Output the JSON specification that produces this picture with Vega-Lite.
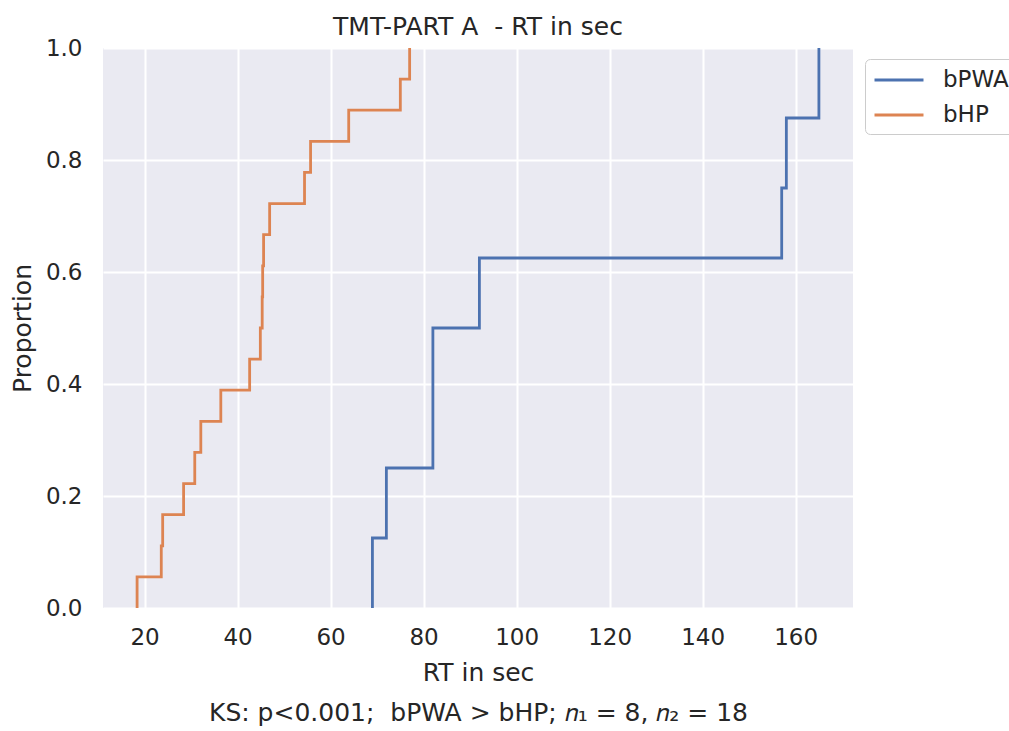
{
  "$schema": "https://vega.github.io/schema/vega-lite/v6.json",
  "width": 750,
  "height": 560,
  "autosize": {"type": "none"},
  "padding": {"left": 103, "top": 48, "right": 156, "bottom": 123},
  "background": "white",
  "title": {
    "text": "TMT-PART A\u00a0 - RT in sec",
    "font": "DejaVu Sans",
    "fontSize": 25,
    "fontWeight": "normal",
    "color": "#262626",
    "anchor": "middle",
    "offset": -3
  },
  "config": {
    "font": "DejaVu Sans",
    "view": {"fill": "#EAEAF2", "stroke": null},
    "axis": {
      "domain": false,
      "ticks": false,
      "grid": true,
      "gridColor": "#FFFFFF",
      "gridWidth": 2,
      "gridOpacity": 1,
      "labelFont": "DejaVu Sans",
      "labelFontSize": 23,
      "labelColor": "#262626",
      "titleFont": "DejaVu Sans",
      "titleFontSize": 25,
      "titleFontWeight": "normal",
      "titleColor": "#262626"
    }
  },
  "data": {
    "values": [
      {"group": "bPWA", "rt": 69, "p": 0},
      {"group": "bPWA", "rt": 69, "p": 0.125},
      {"group": "bPWA", "rt": 72, "p": 0.25},
      {"group": "bPWA", "rt": 82, "p": 0.375},
      {"group": "bPWA", "rt": 82, "p": 0.5},
      {"group": "bPWA", "rt": 92, "p": 0.625},
      {"group": "bPWA", "rt": 157, "p": 0.75},
      {"group": "bPWA", "rt": 158, "p": 0.875},
      {"group": "bPWA", "rt": 165, "p": 1.0},
      {"group": "bHP", "rt": 18.4, "p": 0},
      {"group": "bHP", "rt": 18.4, "p": 0.0556},
      {"group": "bHP", "rt": 23.6, "p": 0.1111},
      {"group": "bHP", "rt": 23.9, "p": 0.1667},
      {"group": "bHP", "rt": 28.4, "p": 0.2222},
      {"group": "bHP", "rt": 30.8, "p": 0.2778},
      {"group": "bHP", "rt": 32.1, "p": 0.3333},
      {"group": "bHP", "rt": 36.4, "p": 0.3889},
      {"group": "bHP", "rt": 42.6, "p": 0.4444},
      {"group": "bHP", "rt": 44.9, "p": 0.5},
      {"group": "bHP", "rt": 45.3, "p": 0.5556},
      {"group": "bHP", "rt": 45.4, "p": 0.6111},
      {"group": "bHP", "rt": 45.6, "p": 0.6667},
      {"group": "bHP", "rt": 46.9, "p": 0.7222},
      {"group": "bHP", "rt": 54.4, "p": 0.7778},
      {"group": "bHP", "rt": 55.7, "p": 0.8333},
      {"group": "bHP", "rt": 63.9, "p": 0.8889},
      {"group": "bHP", "rt": 75.0, "p": 0.9444},
      {"group": "bHP", "rt": 77.0, "p": 1.0}
    ]
  },
  "mark": {"type": "line", "interpolate": "step-after", "strokeWidth": 2.8, "clip": false},
  "encoding": {
    "x": {
      "field": "rt",
      "type": "quantitative",
      "scale": {"domain": [11.07, 172.33], "nice": false, "zero": false},
      "axis": {
        "values": [20, 40, 60, 80, 100, 120, 140, 160],
        "format": "d",
        "labelPadding": 18,
        "title": ["RT in sec", "\u00a0\u00a0KS: p<0.001;\u00a0 bPWA > bHP; \ud835\udc5b\u2081 = 8, \ud835\udc5b\u2082 = 18"],
        "titleLineHeight": 40,
        "titlePadding": 11
      }
    },
    "y": {
      "field": "p",
      "type": "quantitative",
      "scale": {"domain": [0, 1], "nice": false},
      "axis": {
        "values": [0, 0.2, 0.4, 0.6, 0.8, 1.0],
        "format": ".1f",
        "labelPadding": 21,
        "title": "Proportion",
        "titlePadding": 10
      }
    },
    "color": {
      "field": "group",
      "type": "nominal",
      "scale": {"domain": ["bPWA", "bHP"], "range": ["#4C72B0", "#DD8452"]},
      "legend": {
        "title": null,
        "orient": "none",
        "legendX": 762,
        "legendY": 11,
        "fillColor": "#FFFFFF",
        "strokeColor": "#CCCCCC",
        "cornerRadius": 5,
        "padding": 7,
        "symbolType": "M-2,0H2",
        "symbolSize": 600,
        "symbolOffset": 13,
        "symbolStrokeWidth": 2.8,
        "labelFont": "DejaVu Sans",
        "labelFontSize": 23,
        "labelColor": "#262626",
        "labelOffset": 30,
        "rowPadding": 9
      }
    },
    "order": {"field": "p", "type": "quantitative"}
  }
}
